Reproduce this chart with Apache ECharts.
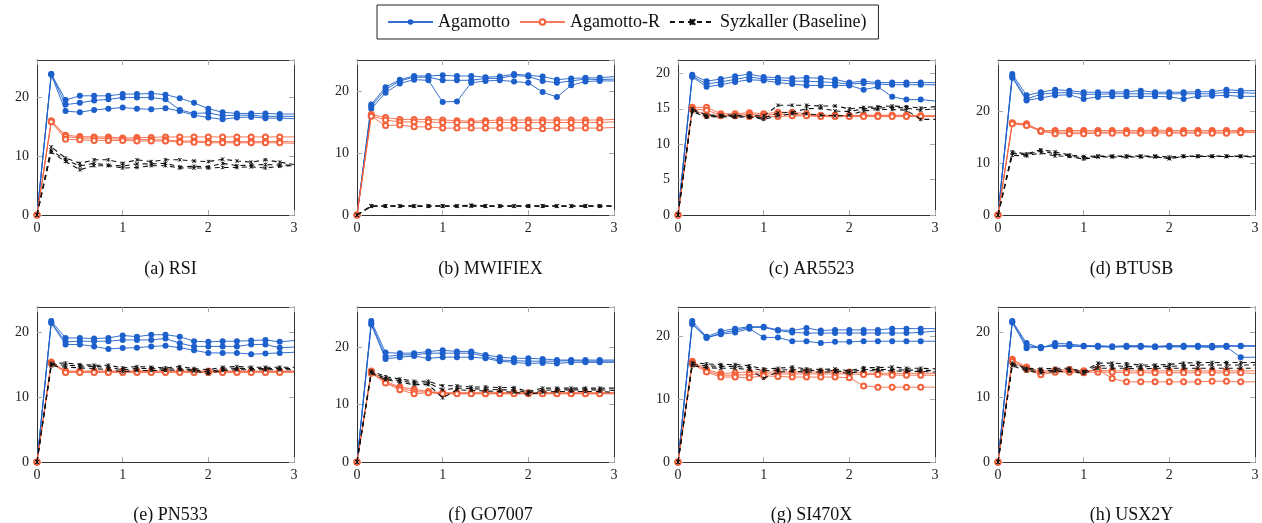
<!DOCTYPE html>
<html>
<head>
<meta charset="utf-8">
<script src="https://cdn.jsdelivr.net/npm/echarts@6/dist/echarts.min.js"></script>
<style>
  html, body { margin: 0; padding: 0; background: #fff; }
  #chart { width: 1262px; height: 523px; }
</style>
</head>
<body>
<div id="chart"></div>
<script>
'use strict';
// time in hours, one sample every 10 minutes
var hours = [0, 0.1667, 0.3333, 0.5, 0.6667, 0.8333, 1, 1.1667, 1.3333, 1.5, 1.6667, 1.8333, 2, 2.1667, 2.3333, 2.5, 2.6667, 2.8333, 3];
var xTicks = [0, 1, 2, 3];
var panelNames = ['(a) RSI', '(b) MWIFIEX', '(c) AR5523', '(d) BTUSB', '(e) PN533', '(f) GO7007', '(g) SI470X', '(h) USX2Y'];
var yStep = [10, 10, 5, 10, 10, 10, 10, 10];
var legendNames = ['Agamotto', 'Agamotto-R', 'Syzkaller (Baseline)'];

// (a) RSI
var rsiAgamotto = [
  [0, 24.0, 19.6, 20.3, 20.3, 20.3, 20.6, 20.6, 20.7, 20.5, 19.9, 19.1, 18.1, 17.5, 17.3, 17.3, 17.3, 17.2, 17.2],
  [0, 24.0, 18.8, 19.1, 19.5, 19.7, 20.0, 20.0, 20.0, 19.7, 17.9, 17.3, 17.4, 16.9, 17.0, 17.0, 16.8, 16.8, 16.8],
  [0, 23.9, 17.7, 17.5, 17.9, 18.1, 18.3, 18.1, 18.0, 18.2, 17.7, 17.0, 16.6, 16.3, 16.6, 16.7, 16.5, 16.5, 16.4]
];
var rsiAgamottoR = [
  [0, 16.0, 13.6, 13.35, 13.3, 13.3, 13.1, 13.2, 13.2, 13.3, 13.3, 13.3, 13.3, 13.3, 13.3, 13.3, 13.3, 13.3, 13.3],
  [0, 16.0, 13.35, 13.1, 13.1, 13.0, 12.9, 12.9, 12.8, 12.8, 12.6, 12.6, 12.5, 12.5, 12.5, 12.5, 12.5, 12.5, 12.5],
  [0, 15.9, 12.9, 12.8, 12.7, 12.7, 12.7, 12.6, 12.6, 12.6, 12.4, 12.4, 12.3, 12.3, 12.3, 12.3, 12.3, 12.3, 12.2]
];
var rsiSyzkaller = [
  [0, 11.6, 9.7, 8.8, 9.4, 9.4, 8.8, 9.4, 9.1, 9.4, 9.4, 9.2, 9.1, 9.5, 9.2, 9.0, 9.4, 9.0, 8.6],
  [0, 11.0, 9.4, 8.35, 8.8, 8.5, 8.35, 8.7, 8.7, 8.8, 8.2, 8.3, 8.2, 8.8, 8.4, 8.5, 8.6, 8.5, 8.5],
  [0, 10.7, 9.1, 7.7, 8.4, 8.4, 8.0, 8.1, 8.4, 8.4, 8.0, 8.0, 8.0, 8.1, 8.1, 8.2, 8.0, 8.3, 8.4]
];

// (b) MWIFIEX
var mwifiexAgamotto = [
  [0, 17.8, 20.6, 21.8, 22.4, 22.4, 22.5, 22.4, 22.4, 22.2, 22.3, 22.7, 22.5, 22.3, 21.8, 22.0, 22.1, 22.1, 22.3],
  [0, 17.5, 20.2, 21.6, 22.2, 22.2, 21.7, 21.7, 21.7, 22.0, 22.0, 22.5, 22.3, 21.6, 21.3, 21.6, 21.9, 21.8, 21.9],
  [0, 17.1, 19.7, 21.2, 21.8, 21.7, 18.2, 18.3, 21.3, 21.6, 21.7, 21.5, 21.3, 19.8, 19.0, 20.9, 21.5, 21.6, 21.6]
];
var mwifiexAgamottoR = [
  [0, 16.2, 15.7, 15.4, 15.4, 15.4, 15.3, 15.2, 15.1, 15.2, 15.3, 15.3, 15.3, 15.3, 15.3, 15.3, 15.3, 15.3, 15.4],
  [0, 16.0, 15.3, 15.0, 15.0, 15.0, 14.9, 14.9, 14.9, 14.9, 14.9, 14.9, 14.9, 14.9, 14.9, 14.9, 14.9, 14.9, 15.0],
  [0, 15.9, 14.4, 14.5, 14.2, 14.2, 14.0, 14.0, 14.0, 14.0, 14.0, 14.0, 14.0, 13.9, 14.0, 14.0, 14.0, 14.0, 14.1]
];
var mwifiexSyzkaller = [
  [0, 1.5, 1.5, 1.5, 1.5, 1.5, 1.5, 1.5, 1.6, 1.5, 1.5, 1.5, 1.5, 1.5, 1.5, 1.5, 1.5, 1.5, 1.5],
  [0, 1.4, 1.4, 1.4, 1.4, 1.4, 1.4, 1.4, 1.5, 1.4, 1.4, 1.4, 1.4, 1.4, 1.4, 1.4, 1.4, 1.4, 1.4],
  [0, 1.4, 1.4, 1.4, 1.4, 1.4, 1.4, 1.4, 1.4, 1.4, 1.4, 1.4, 1.4, 1.4, 1.4, 1.4, 1.4, 1.4, 1.4]
];

// (c) AR5523
var ar5523Agamotto = [
  [0, 19.8, 18.9, 19.2, 19.6, 19.9, 19.5, 19.4, 19.3, 19.4, 19.3, 19.15, 18.7, 18.9, 18.7, 18.7, 18.7, 18.7, 18.7],
  [0, 19.6, 18.5, 18.8, 19.15, 19.5, 19.2, 19.1, 18.9, 18.9, 18.8, 18.7, 18.5, 18.6, 18.5, 18.4, 18.4, 18.4, 18.4],
  [0, 19.5, 18.1, 18.4, 18.8, 19.1, 19.0, 18.7, 18.5, 18.3, 18.3, 18.3, 18.3, 17.7, 18.1, 16.7, 16.3, 16.3, 16.1]
];
var ar5523AgamottoR = [
  [0, 15.2, 15.2, 14.3, 14.3, 14.45, 14.3, 14.5, 14.5, 14.3, 14.1, 14.1, 14.0, 14.1, 14.1, 14.1, 14.1, 14.0, 14.0],
  [0, 15.0, 14.8, 14.1, 14.1, 14.2, 14.1, 14.2, 14.2, 14.1, 14.0, 14.0, 14.0, 14.0, 14.0, 14.0, 14.0, 14.0, 14.0],
  [0, 14.9, 14.1, 14.0, 14.0, 13.9, 13.9, 13.9, 14.0, 14.0, 13.9, 13.9, 13.9, 13.9, 13.9, 13.9, 13.9, 13.9, 13.9]
];
var ar5523Syzkaller = [
  [0, 15.0, 14.1, 14.1, 14.1, 14.0, 14.0, 15.5, 15.5, 15.5, 15.4, 15.4, 15.0, 15.2, 15.3, 15.4, 15.3, 15.1, 15.3],
  [0, 14.8, 13.9, 14.0, 13.9, 13.8, 13.7, 14.4, 14.5, 15.0, 15.1, 14.7, 14.6, 15.0, 15.1, 15.2, 15.1, 14.8, 15.0],
  [0, 14.6, 13.8, 13.9, 13.8, 13.9, 13.5, 14.0, 14.3, 14.3, 14.1, 14.0, 14.1, 14.7, 14.9, 14.9, 14.8, 13.5, 13.5]
];

// (d) BTUSB
var btusbAgamotto = [
  [0, 27.2, 23.1, 23.7, 24.2, 24.0, 23.7, 23.7, 23.7, 23.8, 24.0, 23.7, 23.7, 23.7, 23.8, 23.8, 24.2, 24.0, 24.0],
  [0, 26.8, 22.4, 23.3, 23.6, 23.6, 23.3, 23.3, 23.4, 23.4, 23.4, 23.4, 23.4, 23.4, 23.4, 23.4, 23.7, 23.6, 23.5],
  [0, 26.5, 22.1, 22.6, 23.1, 23.2, 22.4, 22.8, 22.9, 22.9, 22.9, 22.9, 22.8, 22.4, 22.9, 23.0, 23.1, 22.9, 22.9]
];
var btusbAgamottoR = [
  [0, 17.8, 17.6, 16.3, 16.3, 16.3, 16.3, 16.3, 16.3, 16.3, 16.3, 16.4, 16.3, 16.3, 16.3, 16.3, 16.3, 16.3, 16.3],
  [0, 17.7, 17.4, 16.1, 16.0, 16.0, 16.0, 16.0, 16.0, 16.0, 16.0, 16.1, 16.0, 16.0, 16.0, 16.0, 16.0, 16.1, 16.2],
  [0, 17.6, 17.3, 16.2, 15.7, 15.7, 15.7, 15.8, 15.8, 15.8, 15.8, 15.8, 15.8, 15.8, 15.8, 15.8, 15.8, 15.9, 15.9]
];
var btusbSyzkaller = [
  [0, 12.2, 11.8, 12.6, 12.2, 11.6, 11.3, 11.4, 11.4, 11.4, 11.4, 11.4, 11.2, 11.4, 11.4, 11.4, 11.4, 11.4, 11.4],
  [0, 11.9, 11.6, 12.4, 11.8, 11.4, 11.0, 11.3, 11.3, 11.3, 11.3, 11.3, 10.9, 11.3, 11.3, 11.3, 11.3, 11.3, 11.3],
  [0, 11.5, 11.4, 12.0, 11.4, 11.3, 10.8, 11.2, 11.2, 11.2, 11.2, 11.2, 10.9, 11.3, 11.3, 11.3, 11.3, 11.3, 11.2]
];

// (e) PN533
var pn533Agamotto = [
  [0, 21.7, 19.1, 19.1, 19.0, 19.1, 19.5, 19.3, 19.6, 19.6, 19.3, 18.6, 18.5, 18.6, 18.6, 18.7, 18.8, 18.5, 18.7],
  [0, 21.5, 18.5, 18.6, 18.6, 18.6, 18.8, 18.8, 18.8, 19.0, 18.3, 17.8, 17.8, 17.8, 17.8, 18.1, 18.1, 17.6, 17.7],
  [0, 21.4, 18.1, 18.1, 17.8, 17.4, 17.55, 17.6, 17.8, 17.9, 17.6, 17.2, 16.8, 16.8, 16.8, 16.6, 16.7, 16.8, 16.9]
];
var pn533AgamottoR = [
  [0, 15.4, 14.0, 14.0, 14.0, 14.0, 14.0, 14.0, 14.0, 14.0, 14.0, 14.0, 14.0, 14.0, 14.0, 14.0, 14.0, 14.0, 14.0],
  [0, 15.3, 13.9, 13.9, 13.9, 13.9, 13.9, 13.9, 13.9, 13.9, 13.9, 13.9, 13.9, 13.9, 13.9, 13.9, 13.9, 13.9, 13.9],
  [0, 15.2, 13.8, 13.8, 13.8, 13.8, 13.8, 13.8, 13.8, 13.8, 13.8, 13.8, 13.8, 13.8, 13.8, 13.8, 13.8, 13.8, 13.8]
];
var pn533Syzkaller = [
  [0, 15.2, 15.25, 15.0, 14.9, 14.9, 14.5, 14.7, 14.6, 14.5, 14.7, 14.4, 14.2, 14.6, 14.7, 14.6, 14.6, 14.6, 14.6],
  [0, 15.0, 14.9, 14.8, 14.7, 14.6, 14.2, 14.4, 14.4, 14.3, 14.4, 14.2, 13.9, 14.3, 14.4, 14.4, 14.4, 14.4, 14.4],
  [0, 14.8, 14.6, 14.5, 14.4, 14.2, 13.9, 14.1, 14.1, 14.1, 14.2, 14.0, 13.6, 14.1, 14.2, 14.2, 14.2, 14.2, 14.2]
];

// (f) GO7007
var go7007Agamotto = [
  [0, 24.6, 19.1, 19.0, 19.0, 19.3, 19.5, 19.3, 19.3, 18.7, 18.3, 18.1, 18.1, 18.0, 17.8, 17.8, 17.8, 17.8, 17.8],
  [0, 24.2, 18.4, 18.7, 18.7, 19.0, 19.0, 19.0, 19.0, 18.4, 17.8, 17.7, 17.6, 17.6, 17.6, 17.7, 17.6, 17.6, 17.6],
  [0, 24.0, 18.0, 18.3, 18.5, 18.1, 18.3, 18.3, 18.3, 18.1, 17.6, 17.4, 17.2, 17.3, 17.2, 17.4, 17.4, 17.4, 17.4]
];
var go7007AgamottoR = [
  [0, 15.9, 14.1, 13.1, 12.7, 12.3, 12.1, 12.1, 12.1, 12.1, 12.1, 12.1, 12.1, 12.1, 12.1, 12.1, 12.1, 12.1, 12.1],
  [0, 15.75, 13.9, 12.9, 12.3, 12.2, 12.0, 12.0, 12.0, 12.0, 12.0, 12.0, 12.0, 12.0, 12.0, 12.0, 12.0, 12.0, 12.0],
  [0, 15.5, 13.8, 12.6, 11.9, 12.1, 11.9, 11.9, 11.9, 11.9, 11.9, 11.9, 11.9, 11.9, 11.9, 11.9, 11.9, 11.9, 11.9]
];
var go7007Syzkaller = [
  [0, 15.9, 14.9, 14.5, 14.1, 14.1, 13.3, 13.3, 13.1, 13.1, 13.0, 13.0, 12.3, 12.9, 12.9, 12.9, 12.9, 12.9, 12.9],
  [0, 15.7, 14.6, 14.2, 13.8, 13.8, 12.6, 12.9, 12.8, 12.7, 12.6, 12.6, 12.1, 12.5, 12.6, 12.6, 12.6, 12.6, 12.5],
  [0, 15.5, 14.4, 13.9, 13.5, 13.5, 11.2, 12.6, 12.5, 12.4, 12.3, 12.2, 11.8, 12.2, 12.3, 12.3, 12.3, 12.3, 12.2]
];

// (g) SI470X
var si470xAgamotto = [
  [0, 22.4, 19.9, 20.8, 21.2, 21.5, 21.5, 21.0, 20.9, 21.3, 20.9, 21.0, 21.0, 21.0, 21.0, 21.2, 21.2, 21.2, 21.2],
  [0, 22.0, 19.7, 20.5, 20.9, 21.4, 21.4, 20.9, 20.6, 20.5, 20.5, 20.5, 20.5, 20.5, 20.5, 20.5, 20.5, 20.6, 20.8],
  [0, 21.9, 19.8, 20.3, 20.6, 21.2, 19.8, 19.8, 19.2, 19.2, 18.9, 19.1, 19.1, 19.2, 19.2, 19.2, 19.2, 19.2, 19.2]
];
var si470xAgamottoR = [
  [0, 16.0, 14.7, 14.05, 14.2, 14.3, 14.3, 14.3, 14.3, 14.3, 14.3, 14.3, 14.3, 14.1, 14.1, 14.1, 14.1, 14.1, 14.1],
  [0, 15.8, 14.5, 13.8, 13.8, 13.9, 14.0, 14.0, 14.0, 14.0, 14.0, 14.0, 14.0, 13.9, 13.9, 13.8, 13.8, 13.8, 13.8],
  [0, 15.6, 14.3, 13.5, 13.5, 13.4, 13.7, 13.6, 13.5, 13.5, 13.5, 13.5, 13.4, 12.1, 11.9, 11.9, 11.9, 11.9, 11.9]
];
var si470xSyzkaller = [
  [0, 15.8, 15.6, 15.5, 15.5, 15.3, 14.8, 14.9, 15.1, 14.8, 14.7, 14.8, 14.5, 15.0, 15.0, 15.1, 14.9, 14.9, 14.8],
  [0, 15.5, 15.3, 15.2, 15.2, 15.0, 14.5, 14.6, 14.7, 14.6, 14.5, 14.5, 14.3, 14.7, 14.7, 14.7, 14.6, 14.6, 14.5],
  [0, 15.3, 15.0, 14.9, 14.9, 14.7, 13.3, 14.3, 14.4, 14.3, 14.3, 14.3, 14.1, 14.5, 14.5, 14.5, 14.4, 14.4, 14.3]
];

// (h) USX2Y
var usx2yAgamotto = [
  [0, 21.8, 18.4, 17.6, 18.4, 18.25, 18.0, 18.0, 17.9, 18.0, 18.0, 17.9, 18.0, 18.0, 18.0, 18.0, 18.0, 18.0, 18.0],
  [0, 21.7, 18.0, 17.7, 18.1, 18.0, 17.9, 17.9, 17.8, 17.9, 17.9, 17.8, 17.9, 17.9, 17.9, 17.9, 17.9, 17.9, 17.9],
  [0, 21.6, 17.6, 17.8, 17.9, 17.9, 17.9, 17.8, 17.8, 17.8, 17.8, 17.8, 17.8, 17.8, 17.8, 17.7, 17.8, 16.2, 16.2]
];
var usx2yAgamottoR = [
  [0, 15.9, 14.7, 14.0, 14.2, 14.3, 14.1, 14.2, 14.1, 14.1, 14.1, 14.1, 14.1, 14.1, 14.1, 14.1, 14.1, 14.1, 14.1],
  [0, 15.7, 14.5, 13.8, 14.0, 14.1, 13.9, 13.9, 13.9, 13.8, 13.8, 13.8, 13.8, 13.8, 13.8, 13.8, 13.8, 13.8, 13.7],
  [0, 15.5, 14.3, 13.5, 13.9, 13.9, 13.8, 14.4, 12.9, 12.4, 12.4, 12.4, 12.4, 12.4, 12.4, 12.5, 12.5, 12.4, 12.4]
];
var usx2ySyzkaller = [
  [0, 15.3, 14.5, 14.4, 14.5, 14.5, 14.0, 15.3, 15.3, 15.2, 15.0, 15.0, 15.1, 15.3, 15.4, 15.4, 15.4, 15.4, 15.4],
  [0, 15.1, 14.3, 14.1, 14.2, 14.3, 13.9, 14.9, 14.9, 14.8, 14.7, 14.8, 14.8, 14.9, 15.0, 15.0, 15.0, 15.0, 15.0],
  [0, 14.9, 14.1, 13.8, 14.0, 14.0, 13.7, 14.5, 14.5, 14.5, 14.4, 14.5, 14.5, 14.5, 14.5, 14.5, 14.5, 14.5, 14.5]
];

var panels = [
  [rsiAgamotto, rsiAgamottoR, rsiSyzkaller],
  [mwifiexAgamotto, mwifiexAgamottoR, mwifiexSyzkaller],
  [ar5523Agamotto, ar5523AgamottoR, ar5523Syzkaller],
  [btusbAgamotto, btusbAgamottoR, btusbSyzkaller],
  [pn533Agamotto, pn533AgamottoR, pn533Syzkaller],
  [go7007Agamotto, go7007AgamottoR, go7007Syzkaller],
  [si470xAgamotto, si470xAgamottoR, si470xSyzkaller],
  [usx2yAgamotto, usx2yAgamottoR, usx2ySyzkaller]
];

var font = 'Liberation Serif';
var colLeft = [37, 357, 678, 998];
var rowTop = [60, 307];
var plotW = 257, plotH = 155;

// looks of the three tools
var looks = [
  { color: '#1d5fcb', symbol: 'circle', size: 6, line: { width: 1, opacity: 0.9 } },
  { color: '#f4623c', symbol: 'emptyCircle', size: 5, line: { width: 1, opacity: 0.85 } },
  { color: '#111111', symbol: 'path://M0,0L10,10M10,0L0,10M5,0L5,10', size: 3.5, line: { width: 1.1, type: [5, 4] } }
];

function toPairs(values) {
  return values.map(function (v, i) { return [hours[i], v]; });
}

function maxOf(panel) {
  var m = 0;
  panel.forEach(function (tool) {
    tool.forEach(function (run) {
      run.forEach(function (v) { if (v > m) m = v; });
    });
  });
  return m;
}

var grids = [], xAxes = [], yAxes = [], series = [], titles = [];

panels.forEach(function (panel, p) {
  var row = Math.floor(p / 4), col = p % 4;
  grids.push({ left: colLeft[col], top: rowTop[row], width: plotW, height: plotH, containLabel: false });

  var frame = { show: true, onZero: false, lineStyle: { color: '#333', width: 1 } };
  var tick = { show: true, inside: true, length: 5, lineStyle: { color: '#aaa', width: 1 } };
  var label = { fontFamily: font, fontSize: 14, color: '#222' };

  xAxes.push({
    type: 'value', gridIndex: p, position: 'bottom', min: xTicks[0], max: xTicks[xTicks.length - 1], interval: 1,
    axisLine: frame, axisTick: tick, splitLine: { show: false },
    axisLabel: Object.assign({ margin: 6 }, label)
  });
  xAxes.push({
    type: 'value', gridIndex: p, position: 'top', min: xTicks[0], max: xTicks[xTicks.length - 1], interval: 1,
    axisLine: frame, axisTick: tick, splitLine: { show: false }, axisLabel: { show: false }
  });

  var yMax = maxOf(panel) * 1.1;
  var step = yStep[p];
  yAxes.push({
    type: 'value', gridIndex: p, position: 'left', min: 0, max: yMax, interval: step,
    axisLine: frame, axisTick: tick, splitLine: { show: false },
    axisLabel: Object.assign({
      margin: 8, showMaxLabel: false,
      formatter: function (v) { return v % step === 0 ? String(v) : ''; }
    }, label)
  });
  yAxes.push({
    type: 'value', gridIndex: p, position: 'right', min: 0, max: yMax, interval: step,
    axisLine: frame, axisTick: tick, splitLine: { show: false }, axisLabel: { show: false }
  });

  panel.forEach(function (tool, t) {
    var look = looks[t];
    tool.forEach(function (run) {
      series.push({
        type: 'line', name: legendNames[t],
        xAxisIndex: p * 2, yAxisIndex: p * 2,
        data: toPairs(run),
        symbol: look.symbol,
        symbolSize: function (v) { return v[0] >= 3 ? 0 : look.size; },
        showAllSymbol: true,
        clip: true,
        color: look.color,
        itemStyle: t === 2 ? { color: look.color, borderColor: look.color, borderWidth: 0.9 } : { color: look.color, borderWidth: 1 },
        lineStyle: Object.assign({ color: look.color }, look.line),
        emphasis: { disabled: true },
        z: 2 + t
      });
    });
  });

  titles.push({
    text: panelNames[p],
    left: colLeft[col] + plotW / 2,
    top: row === 0 ? 255 : 501,
    textAlign: 'center',
    textStyle: { fontFamily: font, fontSize: 18, fontWeight: 'normal', color: '#111' }
  });
});

var myChart = echarts.init(document.getElementById('chart'));
var option = {
  animation: false,
  backgroundColor: '#fff',
  title: titles,
  legend: {
    data: legendNames,
    left: 377, top: 5,
    padding: [8, 12, 8, 10],
    itemWidth: 45, itemHeight: 7, itemGap: 9,
    borderColor: '#222', borderWidth: 1,
    textStyle: { fontFamily: font, fontSize: 18, color: '#111' }
  },
  grid: grids,
  xAxis: xAxes,
  yAxis: yAxes,
  series: series
};
myChart.setOption(option);
</script>
</body>
</html>
